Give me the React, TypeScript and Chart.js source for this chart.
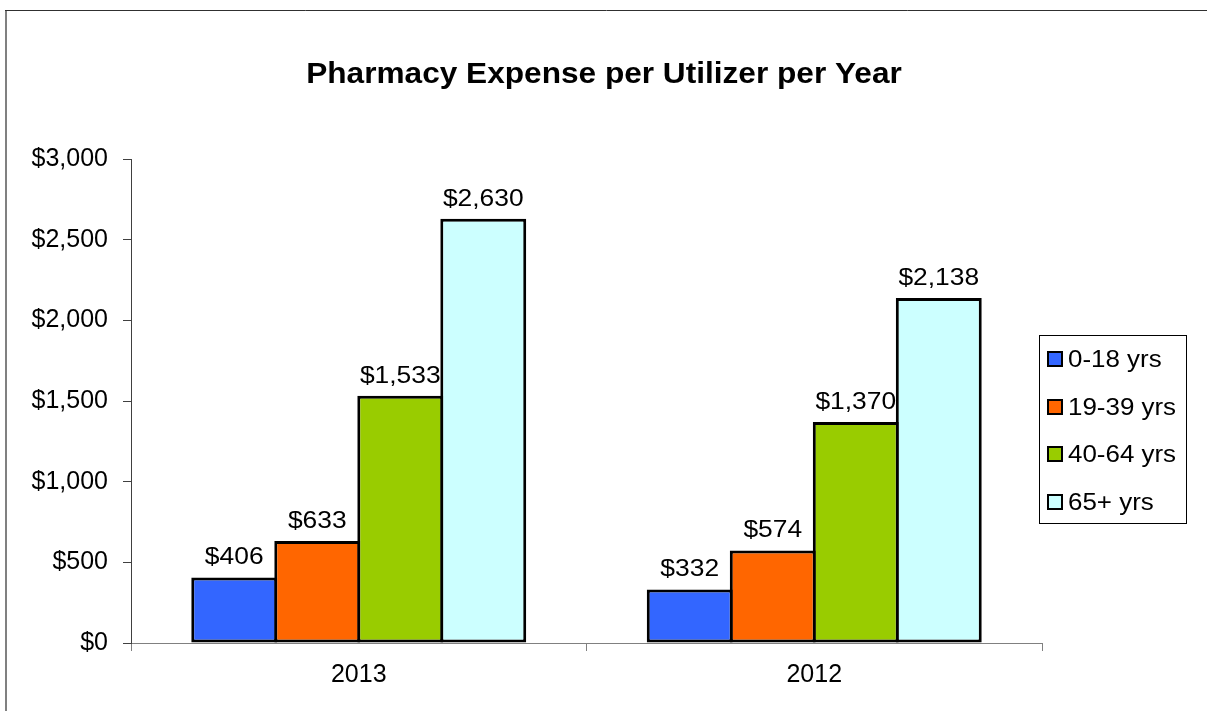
import React, { useEffect, useRef } from "react";
import { Chart, registerables } from "chart.js";

Chart.register(...registerables);

const categories = ["2013", "2012"];
const seriesNames = ["0-18 yrs", "19-39 yrs", "40-64 yrs", "65+ yrs"];
const series0to18 = [406, 332];
const series19to39 = [633, 574];
const series40to64 = [1533, 1370];
const series65plus = [2630, 2138];
const seriesColors = ["#3366FF", "#FF6600", "#99CC00", "#CCFFFF"];
const yTicks = [0, 500, 1000, 1500, 2000, 2500, 3000];
const titleText = "Pharmacy Expense per Utilizer per Year";

const fmt = (v: number) => "$" + v.toLocaleString("en-US");
const FONT = "'Liberation Sans', Arial, sans-serif";

function stretchedText(ctx: CanvasRenderingContext2D, text: string, x: number, y: number, sx: number, align: CanvasTextAlign) {
  ctx.save();
  ctx.translate(x, y);
  ctx.scale(sx, 1);
  ctx.textAlign = align;
  ctx.fillText(text, 0, 0);
  ctx.restore();
}

const decorPlugin = {
  id: "decor",
  beforeDraw(chart: any) {
    const ctx = chart.ctx as CanvasRenderingContext2D;
    ctx.save();
    ctx.fillStyle = "#ffffff";
    ctx.fillRect(0, 0, chart.width, chart.height);
    ctx.strokeStyle = "#808080";
    ctx.lineWidth = 2;
    ctx.beginPath();
    ctx.moveTo(6, 10);
    ctx.lineTo(6, chart.height + 5);
    ctx.stroke();
    ctx.strokeStyle = "#303030";
    ctx.lineWidth = 1;
    ctx.beginPath();
    ctx.moveTo(5, 10.5);
    ctx.lineTo(chart.width + 5, 10.5);
    ctx.stroke();
    ctx.restore();
  },
  afterDraw(chart: any) {
    const ctx = chart.ctx as CanvasRenderingContext2D;
    ctx.save();
    ctx.fillStyle = "#000";
    ctx.font = `bold 29px ${FONT}`;
    ctx.textBaseline = "alphabetic";
    stretchedText(ctx, titleText, 604, 83, 1.09, "center");

    ctx.font = `24px ${FONT}`;
    chart.data.datasets.forEach((ds: any, i: number) => {
      const meta = chart.getDatasetMeta(i);
      meta.data.forEach((bar: any, j: number) => {
        stretchedText(ctx, fmt(ds.data[j]), bar.x, bar.y - 13, 1.1, "center");
      });
    });

    const lx = 1039.5, ly = 335.5, lw = 147, lh = 188;
    ctx.strokeStyle = "#000";
    ctx.lineWidth = 1;
    ctx.strokeRect(lx, ly, lw, lh);
    const rowY = [359, 407, 454, 502];
    ctx.font = `24px ${FONT}`;
    ctx.textBaseline = "middle";
    seriesNames.forEach((name, i) => {
      const y = rowY[i];
      ctx.fillStyle = seriesColors[i];
      ctx.fillRect(1048, y - 7, 14, 14);
      ctx.strokeStyle = "#000";
      ctx.lineWidth = 2;
      ctx.strokeRect(1048, y - 7, 14, 14);
      ctx.fillStyle = "#000";
      stretchedText(ctx, name, 1068, y + 1, 1.08, "left");
    });
    ctx.restore();
  },
};

export default function App() {
  const ref = useRef<HTMLCanvasElement | null>(null);
  useEffect(() => {
    if (!ref.current) return;
    const allSeries = [series0to18, series19to39, series40to64, series65plus];
    const chart = new Chart(ref.current, {
      type: "bar",
      data: {
        labels: categories,
        datasets: allSeries.map((d, i) => ({
          label: seriesNames[i],
          data: d,
          backgroundColor: seriesColors[i],
          borderColor: "#000",
          borderWidth: 3,
          borderSkipped: false,
          categoryPercentage: 0.729,
          barPercentage: 1.035,
        })),
      },
      options: {
        responsive: false,
        animation: false,
        layout: { padding: { left: 0, top: 159, right: 165, bottom: 0 } },
        plugins: {
          legend: { display: false },
          title: { display: false },
          tooltip: { enabled: false },
        },
        scales: {
          x: {
            afterFit: (s: any) => { s.height = 68; },
            grid: { drawOnChartArea: false, drawTicks: true, tickLength: 8, color: "#808080", offset: true },
            border: { color: "#808080", width: 1 },
            ticks: { color: "#000", font: { family: FONT, size: 25 }, padding: 9 },
          },
          y: {
            min: 0,
            max: 3000,
            afterFit: (s: any) => { s.width = 131; },
            afterBuildTicks: (s: any) => { s.ticks = yTicks.map((v) => ({ value: v })); },
            grid: { drawOnChartArea: false, drawTicks: true, tickLength: 8, color: "#404040" },
            border: { color: "#404040", width: 1 },
            ticks: {
              color: "#000",
              font: { family: FONT, size: 25 },
              padding: 15,
              callback: (v: any) => fmt(Number(v)),
            },
          },
        },
      },
      plugins: [decorPlugin],
    });
    return () => chart.destroy();
  }, []);
  return (
    <div style={{ position: "fixed", left: 0, top: 0, width: 1207, height: 711 }}>
      <canvas ref={ref} width={1207} height={711} style={{ display: "block" }} />
    </div>
  );
}
